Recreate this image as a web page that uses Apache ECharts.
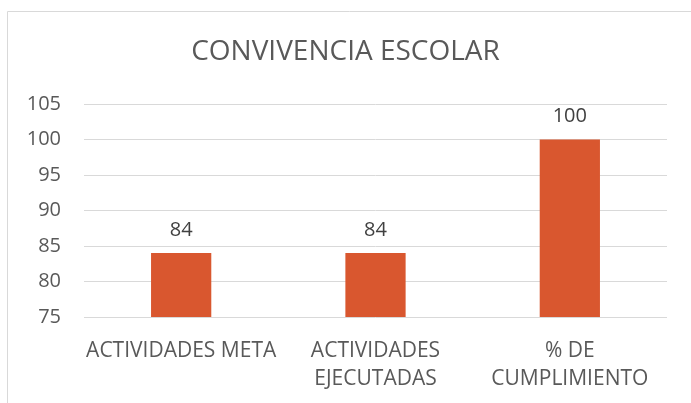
<!DOCTYPE html>
<html>
<head>
<meta charset="utf-8">
<script src="https://cdn.jsdelivr.net/npm/echarts@6/dist/echarts.min.js"></script>
<style>
  html, body { margin: 0; padding: 0; background: #fff; }
  #chart { width: 691px; height: 403px; }
</style>
</head>
<body>
<div id="chart"></div>
<script>
const categories = ["ACTIVIDADES META", "ACTIVIDADES\nEJECUTADAS", "% DE\nCUMPLIMIENTO"];
const values = [84, 84, 100];
const yTicks = { min: 75, max: 105, interval: 5 };

const myChart = echarts.init(document.getElementById("chart"));
const font = "Open Sans";
const option = {
    animation: false,
    title: {
        text: "CONVIVENCIA ESCOLAR",
        left: "center",
        top: 33,
        textStyle: { fontFamily: font, fontSize: 28, fontWeight: "normal", color: "#595959" }
    },
    graphic: [{
        type: "rect",
        shape: { x: 7.5, y: 11.5, width: 800, height: 600 },
        style: { fill: "none", stroke: "#d9d9d9", lineWidth: 1 },
        silent: true
    }],
    grid: { left: 84, right: 24, top: 104, bottom: 86 },
    xAxis: {
        type: "category",
        data: categories,
        axisLine: { show: false },
        axisTick: { show: false },
        axisLabel: {
            fontFamily: font, fontSize: 21, color: "#595959",
            margin: 20, lineHeight: 28, interval: 0
        }
    },
    yAxis: {
        type: "value",
        min: yTicks.min,
        max: yTicks.max,
        interval: yTicks.interval,
        axisLine: { show: false },
        axisTick: { show: false },
        splitLine: { lineStyle: { color: "#d9d9d9", width: 1 } },
        axisLabel: { fontFamily: font, fontSize: 20, color: "#595959", margin: 23 }
    },
    series: [{
        type: "bar",
        data: values,
        barWidth: "31%",
        itemStyle: { color: "#D9572F" },
        label: {
            show: true,
            position: "top",
            distance: 13,
            fontFamily: font, fontSize: 20, color: "#404040"
        }
    }]
};
myChart.setOption(option);
</script>
</body>
</html>
